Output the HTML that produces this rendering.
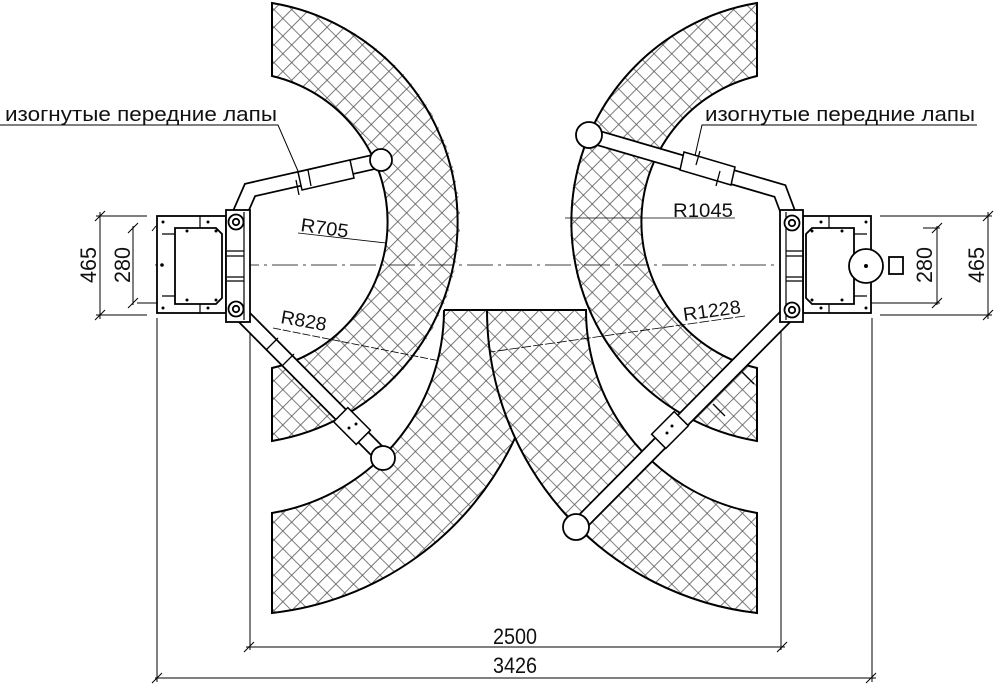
<!DOCTYPE html>
<html><head><meta charset="utf-8"><style>
html,body{margin:0;padding:0;background:#fff;}
svg{display:block;}
text{font-family:"Liberation Sans",sans-serif;fill:#111;}
</style></head><body>
<svg width="1000" height="685" viewBox="0 0 1000 685" xmlns="http://www.w3.org/2000/svg">
<defs>
<pattern id="h" patternUnits="userSpaceOnUse" width="12.5" height="12.5" patternTransform="rotate(45)">
<rect width="12.5" height="12.5" fill="#fff"/>
<path d="M0 0.5H12.5M0.5 0V12.5" stroke="#555" stroke-width="0.8"/>
</pattern>
<clipPath id="cL"><rect x="272" y="0" width="600" height="685"/></clipPath>
<clipPath id="cR"><rect x="0" y="0" width="757" height="685"/></clipPath>
<clipPath id="cLL"><rect x="272" y="310" width="600" height="400"/></clipPath>
<clipPath id="cRL"><rect x="0" y="310" width="757" height="400"/></clipPath>
</defs>

<g fill="url(#h)" fill-rule="evenodd" stroke="none">
<path clip-path="url(#cL)" d="M16,222a222,222 0 1,0 444,0a222,222 0 1,0 -444,0ZM88,222a150,150 0 1,0 300,0a150,150 0 1,0 -300,0Z"/>
<path clip-path="url(#cR)" d="M570,222a222,222 0 1,0 444,0a222,222 0 1,0 -444,0ZM642,222a150,150 0 1,0 300,0a150,150 0 1,0 -300,0Z"/>
<path clip-path="url(#cLL)" d="M-67,310a305,305 0 1,0 610,0a305,305 0 1,0 -610,0ZM32,310a206,206 0 1,0 412,0a206,206 0 1,0 -412,0Z"/>
<path clip-path="url(#cRL)" d="M487,310a305,305 0 1,0 610,0a305,305 0 1,0 -610,0ZM586,310a206,206 0 1,0 412,0a206,206 0 1,0 -412,0Z"/>
</g>
<g fill="none" stroke="#000" stroke-width="2">
<path d="M272,3A222,222 0 0 1 272,441V368A150,150 0 0 0 272,76Z"/>
<path d="M757,3A222,222 0 0 0 757,441V368A150,150 0 0 1 757,76Z"/>
<path d="M444,310A206,206 0 0 1 272,513V613A305,305 0 0 0 515,438"/>
<path d="M444,310H586A206,206 0 0 0 757,513V613A305,305 0 0 1 487,310"/>
</g>

<path d="M155,265H882" stroke="#000" stroke-width="0.8" stroke-dasharray="26,5,3,5" fill="none"/>

<g stroke="#000" stroke-width="1" fill="none">
<path d="M96,216H147M96,315H147M100,212V319M95,221L105,211M95,320L105,310"/>
<path d="M133,226V305M137,303H176M128,233L138,223M128,308L138,298M152,231l4,-5"/>
<path d="M880,216H992M880,315H992M988,212V319M983,221L993,211M983,320L993,310"/>
<path d="M870,303H940M923,228H940M937,226V305M932,233L942,223M932,308L942,298"/>
<path d="M250,322V650M781,322V650M157,318V682M872,318V682"/>
<path d="M246,647H785M244,652L254,642M777,652L787,642"/>
<path d="M155,678H876M152,683L162,673M866,683L876,673"/>
</g>
<g font-size="22">
<text x="88" y="265" text-anchor="middle" transform="rotate(-90 88 265)" dy="8" textLength="36" lengthAdjust="spacingAndGlyphs">465</text>
<text x="122" y="265" text-anchor="middle" transform="rotate(-90 122 265)" dy="8" textLength="36" lengthAdjust="spacingAndGlyphs">280</text>
<text x="924" y="265" text-anchor="middle" transform="rotate(-90 924 265)" dy="8" textLength="36" lengthAdjust="spacingAndGlyphs">280</text>
<text x="976" y="265" text-anchor="middle" transform="rotate(-90 976 265)" dy="8" textLength="36" lengthAdjust="spacingAndGlyphs">465</text>
<text x="515" y="644" text-anchor="middle" textLength="44" lengthAdjust="spacingAndGlyphs">2500</text>
<text x="515" y="673" text-anchor="middle" textLength="44" lengthAdjust="spacingAndGlyphs">3426</text>
</g>

<g font-size="20">
<text x="5" y="121" textLength="272" lengthAdjust="spacingAndGlyphs">изогнутые передние лапы</text>
<text x="705" y="121" textLength="270" lengthAdjust="spacingAndGlyphs">изогнутые передние лапы</text>
</g>
<g stroke="#000" stroke-width="1" fill="none">
<path d="M0,125H278L301,178"/>
<path d="M977,125H702L694,160"/>
</g>
<g font-size="19">
<text x="300" y="231" transform="rotate(8 300 231)" textLength="48" lengthAdjust="spacingAndGlyphs">R705</text>
<text x="280" y="323" transform="rotate(10 280 323)" textLength="46" lengthAdjust="spacingAndGlyphs">R828</text>
<text x="673" y="217" textLength="60" lengthAdjust="spacingAndGlyphs">R1045</text>
<text x="684" y="321" transform="rotate(-8 684 321)" textLength="58" lengthAdjust="spacingAndGlyphs">R1228</text>
</g>
<g stroke="#000" stroke-width="0.8" fill="none">
<path d="M298,233L386,243"/>
<path d="M273,328L440,361" stroke-dasharray="8,2"/>
<path d="M565,218H735"/>
<path d="M745,316L490,352" stroke-dasharray="10,2"/>
</g>

<g fill="none" stroke-linejoin="miter">
<g stroke="#000" stroke-width="16">
<path d="M236,222L250,190L378,161"/>
<path d="M236,309L383,457"/>
<path d="M792,223L780,191L588,135"/>
<path d="M792,310L577,527"/>
</g>
<g stroke="#fff" stroke-width="12.5">
<path d="M236,222L250,190L378,161"/>
<path d="M236,309L383,457"/>
<path d="M792,223L780,191L588,135"/>
<path d="M792,310L577,527"/>
</g>
</g>
<g fill="#fff" stroke="#000" stroke-width="1.5">
<polygon points="298,172 350,160 354,178 302,190"/>
<polygon points="347.8,407.6 333.6,421.8 356.2,444.4 370.4,430.2"/>
<polygon points="684,152 735,167 731,185 680,170"/>
<polygon points="674.2,411.6 688.4,425.8 665.8,448.4 651.6,434.2"/>
</g>
<g stroke="#000" stroke-width="1.3" fill="none">
<path d="M308,170L311,186M296,180L299,195"/>
<path d="M282,366L294,354M266,350L278,338"/>
<path d="M720,171L716,186M700,151L696,165"/>
<path d="M742,372L754,384M713,404L725,416"/>
</g>
<g fill="#000"><circle cx="349" cy="428" r="1.5"/><circle cx="356" cy="424" r="1.5"/><circle cx="672" cy="426" r="1.5"/><circle cx="667" cy="433" r="1.5"/></g>
<g fill="#fff" stroke="#000" stroke-width="1.8">
<circle cx="381" cy="160" r="11"/>
<circle cx="383" cy="458" r="12"/>
<circle cx="589" cy="135" r="13"/>
<circle cx="576" cy="527" r="13"/>
</g>

<g stroke="#000" stroke-width="1.8" fill="#fff">
<rect x="157" y="216" width="69" height="97"/>
<path d="M175,228H216L222,234V298L216,304H175Z"/>
<rect x="226" y="210" width="24" height="112"/>
</g>
<g stroke="#000" stroke-width="1.2" fill="none">
<path d="M200,216V228M200,304V313M162,234H175M162,296H175M244,212V320M227,251H244M227,256H244M227,277H244M227,281H244"/>
</g>
<g fill="#000"><circle cx="163" cy="222" r="1.5"/><circle cx="208" cy="222" r="1.5"/><circle cx="163" cy="308" r="1.5"/><circle cx="208" cy="308" r="1.5"/><circle cx="187" cy="231" r="1.5"/><circle cx="216" cy="231" r="1.5"/><circle cx="187" cy="300" r="1.5"/><circle cx="216" cy="300" r="1.5"/><circle cx="162" cy="265" r="1.8"/></g>
<g fill="#fff" stroke="#000" stroke-width="1.8"><circle cx="236" cy="222" r="7.5"/><circle cx="236" cy="309" r="7.5"/><circle cx="236" cy="222" r="3.2"/><circle cx="236" cy="309" r="3.2"/></g>

<g stroke="#000" stroke-width="1.8" fill="#fff">
<rect x="803" y="216" width="68" height="97"/>
<path d="M854,228H812L806,234V298L812,304H854Z"/>
<rect x="780" y="210" width="23" height="112"/>
<circle cx="866" cy="266" r="17"/>
<rect x="889" y="257" width="14" height="17"/>
</g>
<g stroke="#000" stroke-width="1.2" fill="none">
<path d="M829,216V228M829,304V313M854,234H867M854,296H867M786,212V320M786,251H803M786,256H803M786,277H803M786,281H803"/>
</g>
<g fill="#000"><circle cx="866" cy="222" r="1.5"/><circle cx="821" cy="222" r="1.5"/><circle cx="866" cy="308" r="1.5"/><circle cx="821" cy="308" r="1.5"/><circle cx="812" cy="231" r="1.5"/><circle cx="842" cy="231" r="1.5"/><circle cx="812" cy="300" r="1.5"/><circle cx="842" cy="300" r="1.5"/><circle cx="866" cy="266" r="2"/></g>
<g fill="#fff" stroke="#000" stroke-width="1.8"><circle cx="792" cy="223" r="7.5"/><circle cx="792" cy="310" r="7.5"/><circle cx="792" cy="223" r="3.2"/><circle cx="792" cy="310" r="3.2"/></g>
</svg>
</body></html>
